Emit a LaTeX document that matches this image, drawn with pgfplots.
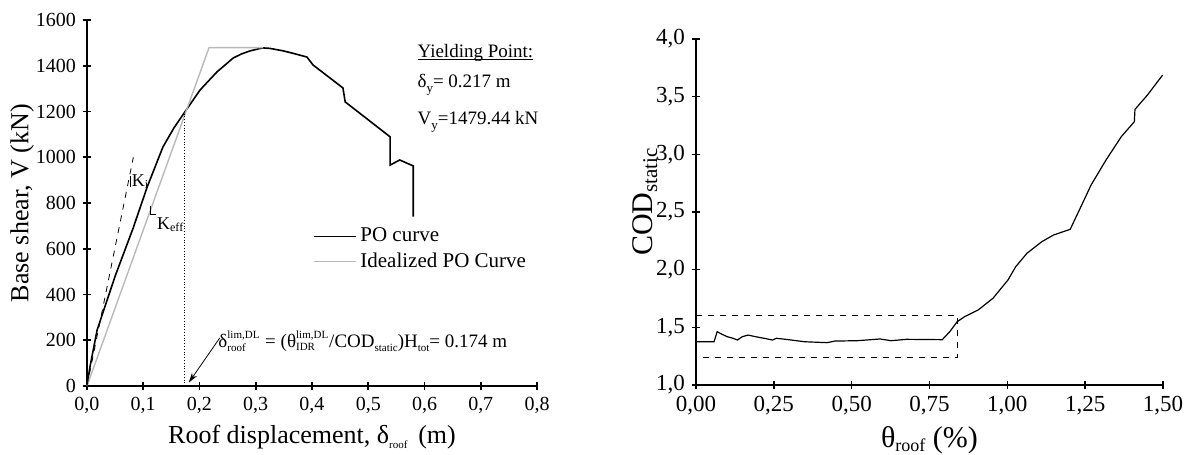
\documentclass[border=0pt]{standalone}
\usepackage{fontspec}
\setmainfont{Liberation Serif}
\usepackage{amsmath}
\usepackage{pgfplots}
\pgfplotsset{compat=1.18}
\usetikzlibrary{arrows.meta}

% small, lowered subscript as in the original figure
\newcommand{\lsub}[2][5.5]{\raisebox{-2.2pt}{\fontsize{#1}{#1}\selectfont #2}}
% symbol with tiny superscript and subscript stacked
\newcommand{\supsub}[3]{$\text{#1}^{\text{\fontsize{5.5}{6}\selectfont #2}}_{\text{\fontsize{5.5}{6}\selectfont #3}}$}

\begin{document}
\begin{tikzpicture}
\pgfplotsset{
  every axis/.append style={
    scale only axis,
    axis x line*=bottom, axis y line*=left,
    axis line style={line width=0.8pt},
    tick style={line width=0.8pt, black},
    tick align=center, major tick length=4pt,
    tick label style={font=\fontsize{10}{12}\selectfont},
    label style={font=\fontsize{13}{15}\selectfont},
    /pgf/number format/assume math mode=true,
    /pgf/number format/use comma,
    /pgf/number format/1000 sep={},
    clip=false,
  }
}
% left: pushover curve
\begin{axis}[
  width=225pt, height=183pt,
  xmin=0, xmax=0.8, ymin=0, ymax=1600,
  xtick={0,0.1,0.2,0.3,0.4,0.5,0.6,0.7,0.8},
  ytick={0,200,400,600,800,1000,1200,1400,1600},
  xticklabel style={/pgf/number format/.cd, fixed, fixed zerofill, precision=1},
  xlabel={Roof displacement, δ\lsub{roof}\, (m)},
  ylabel={Base shear, V (kN)},
  xlabel style={at={(axis description cs:0.5,-0.14)}, anchor=center},
  ylabel style={at={(axis description cs:-0.144,0.5)}, anchor=center},
  legend style={draw=none, fill=none, at={(axis cs:0.39,598)}, anchor=west,
    font=\fontsize{10.5}{12}\selectfont, row sep=0pt},
  legend cell align=left,
  legend image code/.code={\draw[#1] (0pt,0pt) -- (21pt,0pt);},
]
\addplot[black, line width=0.8pt] coordinates {
  (0,0) (0.005,80) (0.018,245) (0.050,480) (0.082,690) (0.107,870)
  (0.135,1045) (0.155,1130) (0.174,1198) (0.201,1294) (0.231,1373)
  (0.260,1434) (0.275,1452) (0.290,1465) (0.305,1474) (0.313,1478)
  (0.325,1476) (0.349,1465) (0.370,1452) (0.391,1438) (0.402,1403)
  (0.455,1303) (0.459,1242) (0.539,1089) (0.539,966) (0.556,988)
  (0.580,962) (0.580,740)
};
\addplot[gray!55, line width=0.7pt] coordinates {
  (0,0) (0.217,1479.44) (0.313,1479.44)
};
\legend{PO curve, Idealized PO Curve}
% initial stiffness line, limit line and slope marks
\addplot[black, dashed, thin, forget plot] coordinates {(0,0) (0.0824,1000)};
\addplot[black, densely dotted, thin, forget plot] coordinates {(0.174,0) (0.174,1195)};
\addplot[black, very thin, forget plot] coordinates {(0.0764,918) (0.0764,870)};
\addplot[black, very thin, forget plot] coordinates {(0.113,787) (0.113,752) (0.1227,752)};

\node[anchor=base west, inner sep=0pt, font=\fontsize{9}{10}\selectfont] at (axis cs:0.079,870) {K\textsubscript{i}};
\node[anchor=base west, inner sep=0pt, font=\fontsize{9}{10}\selectfont] at (axis cs:0.124,686) {K\textsubscript{eff}};

\begin{scope}[every node/.style={anchor=base west, inner sep=0pt, font=\fontsize{9.5}{11}\selectfont}]
\node at (axis cs:0.587,1438) {\underline{\smash{Yielding Point:}}};
\node at (axis cs:0.587,1303) {δ\lsub[6.5]{y}= 0.217 m};
\node at (axis cs:0.587,1141) {V\lsub[6.5]{y}=1479.44 kN};
\node at (axis cs:0.233,170) {\supsub{δ}{lim,DL}{roof} = (\supsub{θ}{lim,DL}{IDR}/COD\lsub{static})H\lsub{tot}= 0.174 m};
\end{scope}
\draw[black, thin, -{Stealth[length=5pt, width=3pt]}] (axis cs:0.236,210) -- (axis cs:0.181,15);
\end{axis}

% right: COD static
\begin{axis}[
  at={(304.5pt,0.5pt)}, anchor=south west,
  width=233.5pt, height=173pt,
  xmin=0, xmax=1.5, ymin=1, ymax=4,
  xtick={0,0.25,0.5,0.75,1,1.25,1.5},
  ytick={1,1.5,2,2.5,3,3.5,4},
  tick label style={font=\fontsize{11.5}{13}\selectfont},
  label style={font=\fontsize{15}{17}\selectfont},
  xticklabel style={/pgf/number format/.cd, fixed, fixed zerofill, precision=2},
  yticklabel style={/pgf/number format/.cd, fixed, fixed zerofill, precision=1},
  xlabel={θ\lsub[9]{roof} (\%)},
  ylabel={COD\textsubscript{static}},
  xlabel style={at={(axis description cs:0.5,-0.159)}, anchor=center},
  ylabel style={at={(axis description cs:-0.109,0.53)}, anchor=center},
]
\addplot[black, line width=0.6pt] coordinates {
  (0,1.375) (0.058,1.375) (0.068,1.462) (0.082,1.442) (0.100,1.419)
  (0.119,1.405) (0.133,1.390) (0.149,1.419) (0.167,1.433) (0.191,1.419)
  (0.228,1.400) (0.246,1.390) (0.258,1.405) (0.288,1.396) (0.349,1.375)
  (0.421,1.367) (0.446,1.381) (0.518,1.384) (0.591,1.399) (0.627,1.384)
  (0.676,1.396) (0.791,1.393) (0.815,1.462) (0.839,1.549) (0.863,1.593)
  (0.906,1.650) (0.954,1.752) (1.002,1.910) (1.027,2.026) (1.063,2.142)
  (1.111,2.243) (1.148,2.300) (1.202,2.350) (1.239,2.561) (1.269,2.734)
  (1.317,2.951) (1.366,3.153) (1.408,3.283) (1.410,3.390) (1.450,3.514)
  (1.499,3.688)
};
\addplot[black, dashed, line width=0.6pt] coordinates {
  (0,1.60) (0.841,1.60) (0.841,1.24) (0,1.24)
};
\end{axis}

\pgfresetboundingbox
\path[use as bounding box] (-43.5pt,-34.5pt) rectangle (554.5pt,193pt);
\end{tikzpicture}
\end{document}
